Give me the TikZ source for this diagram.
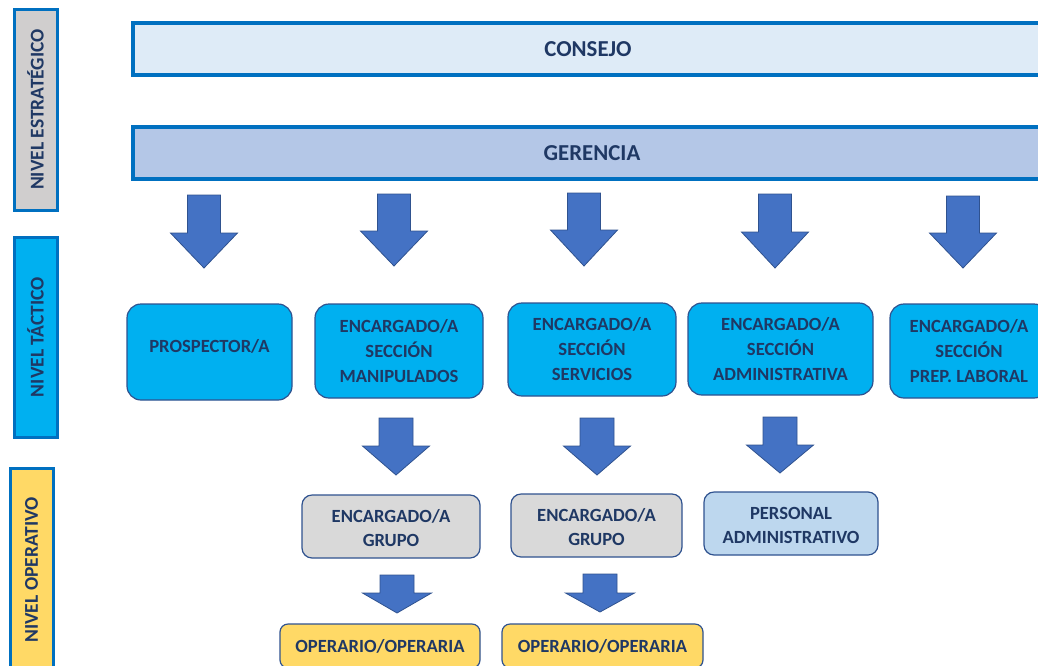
\documentclass[tikz,border=0pt]{standalone}
\usepackage{fontspec}
\setmainfont{Carlito}
\definecolor{navy}{HTML}{1F3864}
\definecolor{frameblue}{HTML}{0070C0}
\definecolor{outl}{HTML}{2F528F}
\definecolor{arrowfill}{HTML}{4472C4}
\definecolor{lgray}{HTML}{D0CECE}
\definecolor{cyanbox}{HTML}{00B0F0}
\definecolor{yel}{HTML}{FFD966}
\definecolor{consejofill}{HTML}{DEEBF7}
\definecolor{gerfill}{HTML}{B4C7E7}
\definecolor{grayfill}{HTML}{D9D9D9}
\definecolor{padfill}{HTML}{BDD7EE}
\newcommand\blockarrowdown[6]{%
  \draw[bigarrow] (#1-#5,#2) -- (#1+#5,#2) -- (#1+#5,#3) -- (#1+#6,#3) -- (#1,#4) -- (#1-#6,#3) -- (#1-#5,#3) -- cycle;}
\begin{document}
\begin{tikzpicture}[x=1pt,y=-1pt,
  every node/.style={inner sep=0pt,text=navy,font=\bfseries},
  levellabel/.style={draw=frameblue,line width=3pt,rotate=90,font=\bfseries\fontsize{19.5}{22}\selectfont},
  bar/.style={draw=frameblue,line width=3.5pt,font=\bfseries\fontsize{22.8}{26}\selectfont},
  tbox/.style={draw=outl,line width=1.2pt,fill=cyanbox,rounded corners=14pt,align=center,font=\bfseries\fontsize{18.6}{25}\selectfont},
  gbox/.style={draw=outl,line width=1.2pt,rounded corners=10pt,align=center,font=\bfseries\fontsize{18.6}{24}\selectfont},
  obox/.style={draw=outl,line width=1.2pt,fill=yel,rounded corners=8pt,align=center,font=\bfseries\fontsize{18.6}{22}\selectfont},
  bigarrow/.style={fill=arrowfill,draw=outl,line width=0.8pt,line join=miter}]
\useasboundingbox (0,0) rectangle (1038,665);
\clip (0,0) rectangle (1038,665);
% level labels
\node[levellabel,fill=lgray,minimum width=201pt,minimum height=43pt] (lblE) at (35.5,109.5) {NIVEL ESTRATÉGICO};
\node[levellabel,fill=cyanbox,minimum width=200pt,minimum height=43pt] (lblT) at (35.5,337) {NIVEL TÁCTICO};
\node[levellabel,fill=yel,minimum width=204pt,minimum height=43pt] (lblO) at (31.5,570) {NIVEL OPERATIVO};
% bars
\node[bar,fill=consejofill,minimum width=910pt,minimum height=52pt] (consejo) at (588,49) {CONSEJO};
\node[bar,fill=gerfill,minimum width=918pt,minimum height=52pt] (gerencia) at (592,153) {GERENCIA};
% arrows row 1
\blockarrowdown{204}{195}{233}{268}{16.5}{33.5}
\blockarrowdown{394}{194}{231}{266}{16.5}{33.5}
\blockarrowdown{584}{193}{230}{266}{16.5}{33.5}
\blockarrowdown{775}{194}{232}{268}{16.5}{33.5}
\blockarrowdown{963}{196}{233}{268}{16.5}{33.5}
% tactical boxes
\node[tbox,minimum width=165pt,minimum height=96pt,text depth=12pt] (prosp) at (209.5,352) {PROSPECTOR/A};
\node[tbox,minimum width=168pt,minimum height=94pt] (manip) at (399,351) {ENCARGADO/A\\SECCIÓN\\MANIPULADOS};
\node[tbox,minimum width=168pt,minimum height=93pt] (serv) at (592,349.5) {ENCARGADO/A\\SECCIÓN\\SERVICIOS};
\node[tbox,minimum width=185pt,minimum height=92pt] (admin) at (780.5,349) {ENCARGADO/A\\SECCIÓN\\ADMINISTRATIVA};
\node[tbox,minimum width=158pt,minimum height=94pt] (prep) at (969,351) {ENCARGADO/A\\SECCIÓN\\PREP. LABORAL};
% arrows row 2
\blockarrowdown{396}{418}{446}{475}{17}{33.5}
\blockarrowdown{597}{418}{446}{475}{17}{33.5}
\blockarrowdown{780}{417}{445}{473}{17}{33.5}
% operative boxes
\node[gbox,fill=grayfill,minimum width=178pt,minimum height=63pt] (grupo1) at (391,526.5) {\rule{0pt}{16pt}ENCARGADO/A\\GRUPO};
\node[gbox,fill=grayfill,minimum width=171pt,minimum height=63pt] (grupo2) at (596.5,525.5) {\rule{0pt}{16pt}ENCARGADO/A\\GRUPO};
\node[gbox,fill=padfill,minimum width=174pt,minimum height=63pt] (padmin) at (791,523.5) {\rule{0pt}{16pt}PERSONAL\\ADMINISTRATIVO};
% arrows row 3
\blockarrowdown{397}{575}{593}{613}{17}{34.5}
\blockarrowdown{600}{574}{593}{612}{17}{34.5}
% operarios
\node[obox,minimum width=200pt,minimum height=44pt] (oper1) at (380,646) {OPERARIO/OPERARIA};
\node[obox,minimum width=201pt,minimum height=44pt] (oper2) at (602.5,646) {OPERARIO/OPERARIA};
\end{tikzpicture}
\end{document}
